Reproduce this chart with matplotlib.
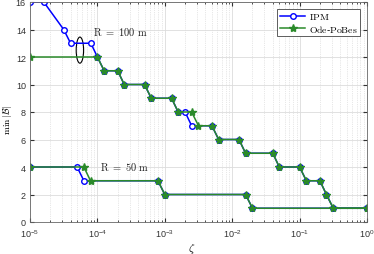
import matplotlib
matplotlib.use("Agg")
import matplotlib.pyplot as plt
from matplotlib.patches import Ellipse
import numpy as np

# R = 100 m
ipm100_x = [1e-5, 1.6e-5, 3.16e-5, 4e-5, 8e-5, 1e-4, 1.26e-4, 2e-4, 2.5e-4, 5e-4, 6.3e-4,
            1.26e-3, 1.58e-3, 2e-3, 2.5e-3, 5e-3, 6.3e-3, 1.26e-2, 1.58e-2, 4e-2, 5e-2,
            0.1, 0.126, 0.2, 0.25, 0.316, 1.0]
ipm100_y = [16, 16, 14, 13, 13, 12, 11, 11, 10, 10, 9, 9, 8, 8, 7, 7, 6, 6, 5, 5, 4, 4, 3, 3, 2, 1, 1]
ode100_x = [1e-5, 1e-4, 1.26e-4, 2e-4, 2.5e-4, 5e-4, 6.3e-4, 1.26e-3, 1.58e-3, 2.5e-3, 3.16e-3,
            5e-3, 6.3e-3, 1.26e-2, 1.58e-2, 4e-2, 5e-2, 0.1, 0.126, 0.2, 0.25, 0.316, 1.0]
ode100_y = [12, 12, 11, 11, 10, 10, 9, 9, 8, 8, 7, 7, 6, 6, 5, 5, 4, 4, 3, 3, 2, 1, 1]

# R = 50 m
ipm50_x = [1e-5, 5e-5, 6.3e-5, 7.9e-4, 1e-3, 1.58e-2, 2e-2, 1.0]
ipm50_y = [4, 4, 3, 3, 2, 2, 1, 1]
ode50_x = [1e-5, 6.3e-5, 7.9e-5, 7.9e-4, 1e-3, 1.58e-2, 2e-2, 1.0]
ode50_y = [4, 4, 3, 3, 2, 2, 1, 1]

blue = "#0000ff"
green = "#2a8a2a"

plt.rcParams["font.family"] = ["Liberation Sans", "DejaVu Sans"]
plt.rcParams["mathtext.fontset"] = "cm"

fig = plt.figure(figsize=(3.74, 2.55), dpi=100)
ax = fig.add_axes([30 / 374, 32 / 255, 337 / 374, 220 / 255])

ax.plot(ipm100_x, ipm100_y, "-o", color=blue, lw=1.1, ms=4, mfc="white", mew=1.0,
        label=r"$\mathrm{IPM}$")
ax.plot(ipm50_x, ipm50_y, "-o", color=blue, lw=1.1, ms=4, mfc="white", mew=1.0)
ax.plot(ode100_x, ode100_y, "-*", color=green, lw=1.1, ms=6, label=r"$\mathrm{Ode}$-$\mathrm{PoBes}$")
ax.plot(ode50_x, ode50_y, "-*", color=green, lw=1.1, ms=6)

ax.set_xscale("log")
ax.set_xlim(1e-5, 1)
ax.set_ylim(0, 16)
ax.set_yticks(range(0, 17, 2))
ax.set_xticks([1e-5, 1e-4, 1e-3, 1e-2, 1e-1, 1])

ax.grid(True, which="major", color="#dcdcdc", lw=0.6)
ax.grid(True, which="minor", axis="x", color="#d0d0d0", lw=0.5, ls=":")
ax.set_axisbelow(True)
ax.tick_params(which="both", direction="in", top=True, right=True, labelsize=6.5, colors="#333333")
ax.tick_params(axis="x", pad=4)
ax.tick_params(axis="y", pad=3)
ax.tick_params(which="major", length=3)
ax.tick_params(which="minor", length=1.5)
for s in ax.spines.values():
    s.set_color("#666666")
    s.set_linewidth(0.6)

ax.set_xlabel(r"$\zeta$", fontsize=8)
ax.set_ylabel(r"$\mathrm{min}\,|\mathcal{B}|$", fontsize=7)
ax.xaxis.set_label_coords(0.48, -0.085)
ax.yaxis.set_label_coords(-0.048, 0.47)

ax.text(8.5e-5, 13.9, r"$\mathrm{R\ =\ 100\ m}$", fontsize=7.5, va="center", color="#222222")
ax.text(1.1e-4, 4.1, r"$\mathrm{R\ =\ 50\ m}$", fontsize=7.5, va="center", color="#222222")
# ellipse in axes coordinates so its pixel width stays fixed
ex = (np.log10(5.5e-5) + 5) / 5
ax.add_patch(Ellipse((ex, 12.5 / 16), width=0.022, height=1.9 / 16, fill=False, lw=0.8,
                     transform=ax.transAxes))

leg = ax.legend(loc="upper right", prop={"size": 7},
                fancybox=False, edgecolor="#444444", framealpha=1, handlelength=2.6,
                handletextpad=0.4, borderpad=0.25, labelspacing=0.15, borderaxespad=0.7)
leg.get_frame().set_linewidth(0.6)

fig.savefig("out.png", dpi=100)
